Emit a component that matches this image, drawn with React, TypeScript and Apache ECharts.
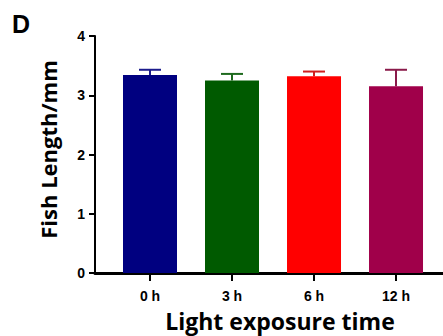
import React, { useEffect, useRef } from "react";
import * as echarts from "echarts";

const categories = ["0 h", "3 h", "6 h", "12 h"];
const means = [3.34, 3.25, 3.32, 3.15];
const errTops = [3.43, 3.36, 3.40, 3.43];
const barColors = ["#000080", "#005a00", "#ff0000", "#a0004a"];
const errColors = ["#1c1c8c", "#1e6a1e", "#d02020", "#8a1a4a"];

export default function App() {
  const ref = useRef<HTMLDivElement>(null);
  useEffect(() => {
    const chart = echarts.init(ref.current!, null, { renderer: "svg" });
    const positions = categories.map((_, i) => i);
    const tickFont = { fontFamily: "'Liberation Sans', Arial", fontWeight: "bold", fontSize: 14, color: "#000" };
    chart.setOption({
      animation: false,
      backgroundColor: "#ffffff",
      graphic: [
        {
          type: "text",
          left: 12,
          top: 11,
          style: { text: "D", fontFamily: "'Liberation Sans', Arial", fontWeight: "bold", fontSize: 25, fill: "#000" },
        },
      ],
      grid: { left: 95, right: 0, top: 36, bottom: 63, outerBoundsMode: "none", containLabel: false },
      xAxis: {
        type: "value",
        min: -0.6707,
        max: 3.573,
        splitLine: { show: false },
        axisLine: { show: true, onZero: false, lineStyle: { color: "#000", width: 3 } },
        axisTick: { show: true, customValues: positions, length: 8, lineStyle: { color: "#000", width: 2 } },
        axisLabel: {
          show: true,
          customValues: positions,
          formatter: (v: number) => categories[Math.round(v)] ?? "",
          margin: 16,
          ...tickFont,
        },
        name: "Light exposure time",
        nameLocation: "middle",
        nameGap: 36,
        nameTextStyle: { fontFamily: "Open Sans", fontWeight: "bold", fontSize: 23, color: "#000", padding: [0, 0, 0, 22] },
      },
      yAxis: {
        type: "value",
        min: 0,
        max: 4,
        interval: 1,
        splitLine: { show: false },
        axisLine: { show: true, onZero: false, lineStyle: { color: "#000", width: 2 } },
        axisTick: { show: true, length: 6, lineStyle: { color: "#000", width: 2 } },
        axisLabel: { margin: 10, ...tickFont },
        name: "Fish Length/mm",
        nameLocation: "middle",
        nameGap: 36,
        nameTextStyle: { fontFamily: "Open Sans", fontWeight: "bold", fontSize: 22, color: "#000", padding: [0, 0, 0, 10] },
      },
      series: [
        {
          type: "bar",
          barWidth: 54,
          data: means.map((m, i) => ({
            value: [i, m],
            itemStyle: { color: barColors[i] },
          })),
          z: 3,
        },
        {
          type: "custom",
          z: 2,
          data: means.map((m, i) => [i, m, errTops[i]]),
          renderItem: (params: any, api: any) => {
            const i = api.value(0);
            const base = api.coord([i, api.value(1)]);
            const top = api.coord([i, api.value(2)]);
            const c = errColors[params.dataIndex];
            return {
              type: "group",
              children: [
                {
                  type: "line",
                  shape: { x1: base[0], y1: base[1], x2: top[0], y2: top[1] },
                  style: { stroke: c, lineWidth: 2 },
                },
                {
                  type: "line",
                  shape: { x1: top[0] - 11, y1: top[1], x2: top[0] + 11, y2: top[1] },
                  style: { stroke: c, lineWidth: 2 },
                },
              ],
            };
          },
        },
      ],
    });
    return () => chart.dispose();
  }, []);
  return <div ref={ref} style={{ width: 443, height: 336, position: "absolute", left: 0, top: 0 }} />;
}
